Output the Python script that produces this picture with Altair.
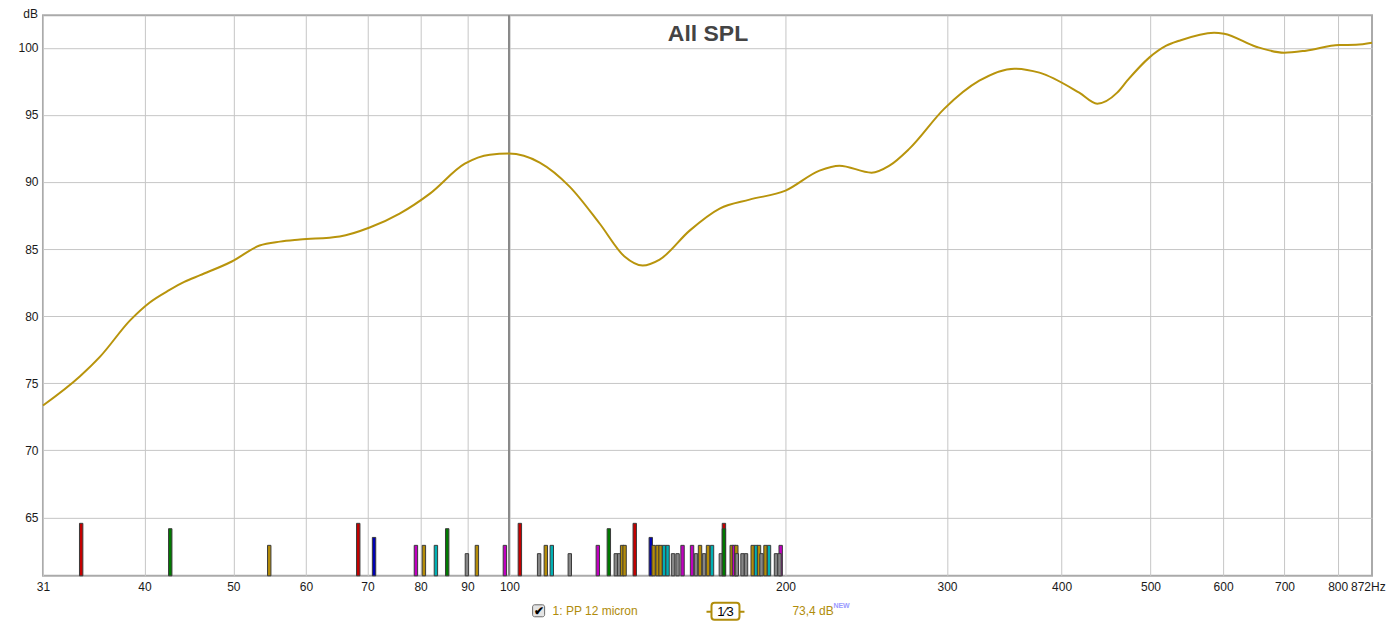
import altair as alt
import pandas as pd

# ---------------- data ----------------
curve_hz = [31.0, 34.0, 35.8, 38.6, 40.5, 42.6, 44.2, 46.0, 49.8, 53.4, 56.2, 59.1, 65.3,
            70.4, 75.9, 81.9, 89.4, 95.2, 99.8, 107.9, 116.3, 125.4, 133.5, 139.7,
            145.8, 157.2, 169.5, 182.7, 200.0, 217.8, 229.0, 248.2, 259.6, 273.0,
            298.0, 325.3, 355.2, 378.3, 418.1, 437.4, 459.9, 471.6, 498.4, 520.2,
            537.4, 586.6, 601.5, 651.8, 699.3, 739.0, 802.7, 837.7, 872.0]
curve_db = [73.34, 75.50, 77.00, 79.70, 81.00, 81.95, 82.55, 83.05, 84.07, 85.26, 85.55,
            85.70, 85.93, 86.60, 87.64, 89.13, 91.36, 92.03, 92.11, 91.44, 89.65,
            86.90, 84.44, 83.77, 84.21, 86.37, 88.01, 88.68, 89.35, 90.84, 91.21,
            90.69, 91.21, 92.48, 95.46, 97.54, 98.44, 98.14, 96.65, 95.83, 96.65,
            97.54, 99.26, 100.15, 100.52, 101.12, 101.04, 100.07, 99.63, 99.78,
            100.20, 100.22, 100.37]

mode_hz = [34.12, 42.67, 54.71, 68.41, 71.18, 79.07, 80.67, 83.14, 85.53, 89.87,
           92.15, 98.86, 102.65, 107.73, 109.56, 111.22, 116.36, 124.84, 128.34,
           130.61, 131.70, 132.69, 133.52, 136.97, 142.59, 143.60, 145.04, 146.14,
           147.43, 148.73, 150.79, 152.51, 154.43, 158.16, 159.75, 161.36, 162.99,
           164.63, 166.29, 170.02, 171.34, 171.34, 174.73, 175.74, 176.76, 177.0,
           179.53, 181.11, 184.18, 185.71, 187.12, 188.29, 190.19, 191.87, 195.27,
           197.58, 196.99]
mode_kind = ["red", "green", "olive", "red", "blue", "magenta", "olive", "cyan", "green", "gray",
             "olive", "magenta", "red", "gray", "olive", "cyan", "gray", "magenta", "green",
             "gray", "gray", "olive", "olive", "red", "blue", "olive", "olive", "olive",
             "cyan", "cyan", "gray", "gray", "magenta", "magenta", "gray", "olive", "gray",
             "olive", "cyan", "gray", "red", "green", "olive", "magenta", "olive", "gray",
             "gray", "gray", "olive", "cyan", "olive", "gray", "olive", "cyan", "gray",
             "magenta", "gray"]
kind_level = {"red": 64.56, "green": 64.16, "blue": 63.51, "olive": 62.92,
              "magenta": 62.92, "cyan": 62.92, "gray": 62.30}
mode_db = [kind_level[k] for k in mode_kind]

kind_domain = ["red", "green", "blue", "olive", "magenta", "cyan", "gray"]
kind_range = ["#c40000", "#007a00", "#0000b4", "#b48c08", "#c000c0", "#00b0b4", "#868686"]

x_ticks = [31, 40, 50, 60, 70, 80, 90, 100, 200, 300, 400, 500, 600, 700, 800]
y_ticks = [65, 70, 75, 80, 85, 90, 95, 100]

Y_MIN, Y_MAX = 60.65, 102.42
FONT = "Liberation Sans"
OLIVE = "#b08c0a"

x_scale = alt.Scale(type="log", domain=[31, 872], nice=False, padding=0)
y_scale = alt.Scale(domain=[Y_MIN, Y_MAX], nice=False, zero=False, padding=0)

curve_df = pd.DataFrame({"hz": curve_hz, "db": curve_db})
mode_df = pd.DataFrame({"hz": mode_hz, "db": mode_db, "kind": mode_kind})

x_axis = alt.Axis(values=x_ticks, format="d", title=None, grid=True, gridColor="#c6c6c6",
                  gridWidth=1, ticks=False, domain=False, labelFont=FONT, labelFontSize=12,
                  labelColor="#1a1a1a", labelPadding=6, labelOverlap=False, labelFlush=False)
y_axis = alt.Axis(values=y_ticks, title=None, grid=True, gridColor="#c6c6c6", gridWidth=1,
                  ticks=False, domain=False, labelFont=FONT, labelFontSize=12,
                  labelColor="#1a1a1a", labelPadding=5)

X = alt.X("hz:Q", scale=x_scale, axis=x_axis)
Y = alt.Y("db:Q", scale=y_scale, axis=y_axis)

cursor = alt.Chart(curve_df).mark_rule(color="#8c8c8c", strokeWidth=1).encode(
    x=alt.datum(100),
)

bars = alt.Chart(mode_df).mark_bar(width=3.4, stroke="#3a3a3a", strokeWidth=1, opacity=1).encode(
    x=X,
    y=Y,
    y2=alt.datum(Y_MIN),
    color=alt.Color("kind:N", scale=alt.Scale(domain=kind_domain, range=kind_range), legend=None),
)

line = alt.Chart(curve_df).mark_line(color="#b8940c", strokeWidth=2, interpolate="monotone").encode(
    x=X,
    y=Y,
)

one = alt.Data(values=[{}])


def txt(text, x, y, size=12, color="#1a1a1a", align="left", baseline="middle", weight="normal"):
    return alt.Chart(one).mark_text(text=text, font=FONT, fontSize=size, color=color,
                                    align=align, baseline=baseline, fontWeight=weight).encode(
        x=alt.value(x), y=alt.value(y))


title = txt("All SPL", 665.5, 19, size=23, color="#444444", align="center", weight="bold")
db_lbl = txt("dB", -5, -6, size=12, align="right", baseline="top")
hz_lbl = txt("872Hz", 1309, 567, size=12, baseline="top")

checkbox = alt.Chart(one).mark_rect(fill="#e4e4e4", stroke="#6a6a6a", strokeWidth=1,
                                    cornerRadius=2).encode(
    x=alt.value(490), x2=alt.value(502), y=alt.value(590), y2=alt.value(602))
check = txt("✔", 496, 596, size=12, color="#000000", align="center", weight="bold")
series_lbl = txt("1: PP 12 micron", 510, 596, size=12, color=OLIVE)
leg_line = alt.Chart(one).mark_rule(color=OLIVE, strokeWidth=2).encode(
    x=alt.value(664), x2=alt.value(702), y=alt.value(597))
leg_box = alt.Chart(one).mark_rect(fill="white", stroke=OLIVE, strokeWidth=2,
                                   cornerRadius=3).encode(
    x=alt.value(669), x2=alt.value(697), y=alt.value(588), y2=alt.value(605))
frac = txt("1⁄3", 683, 597, size=13, color="#000000", align="center")
level_lbl = txt("73,4 dB", 750, 596, size=12, color=OLIVE)
new_lbl = txt("NEW", 791, 591, size=7, color="#9a9aff", weight="bold")

chart = alt.layer(
    line.mark_line(opacity=0), cursor, bars, line, title, db_lbl, hz_lbl,
    checkbox, check, series_lbl, leg_line, leg_box, frac, level_lbl, new_lbl,
).properties(
    width=1330, height=561,
    autosize=alt.AutoSizeParams(type="none"),
    padding={"left": 35, "top": 7, "right": 15, "bottom": 45},
    background="white",
).configure_view(stroke="#aaaaaa", strokeWidth=2)

chart.save("out.html", embed_options={"renderer": "svg", "actions": False})
